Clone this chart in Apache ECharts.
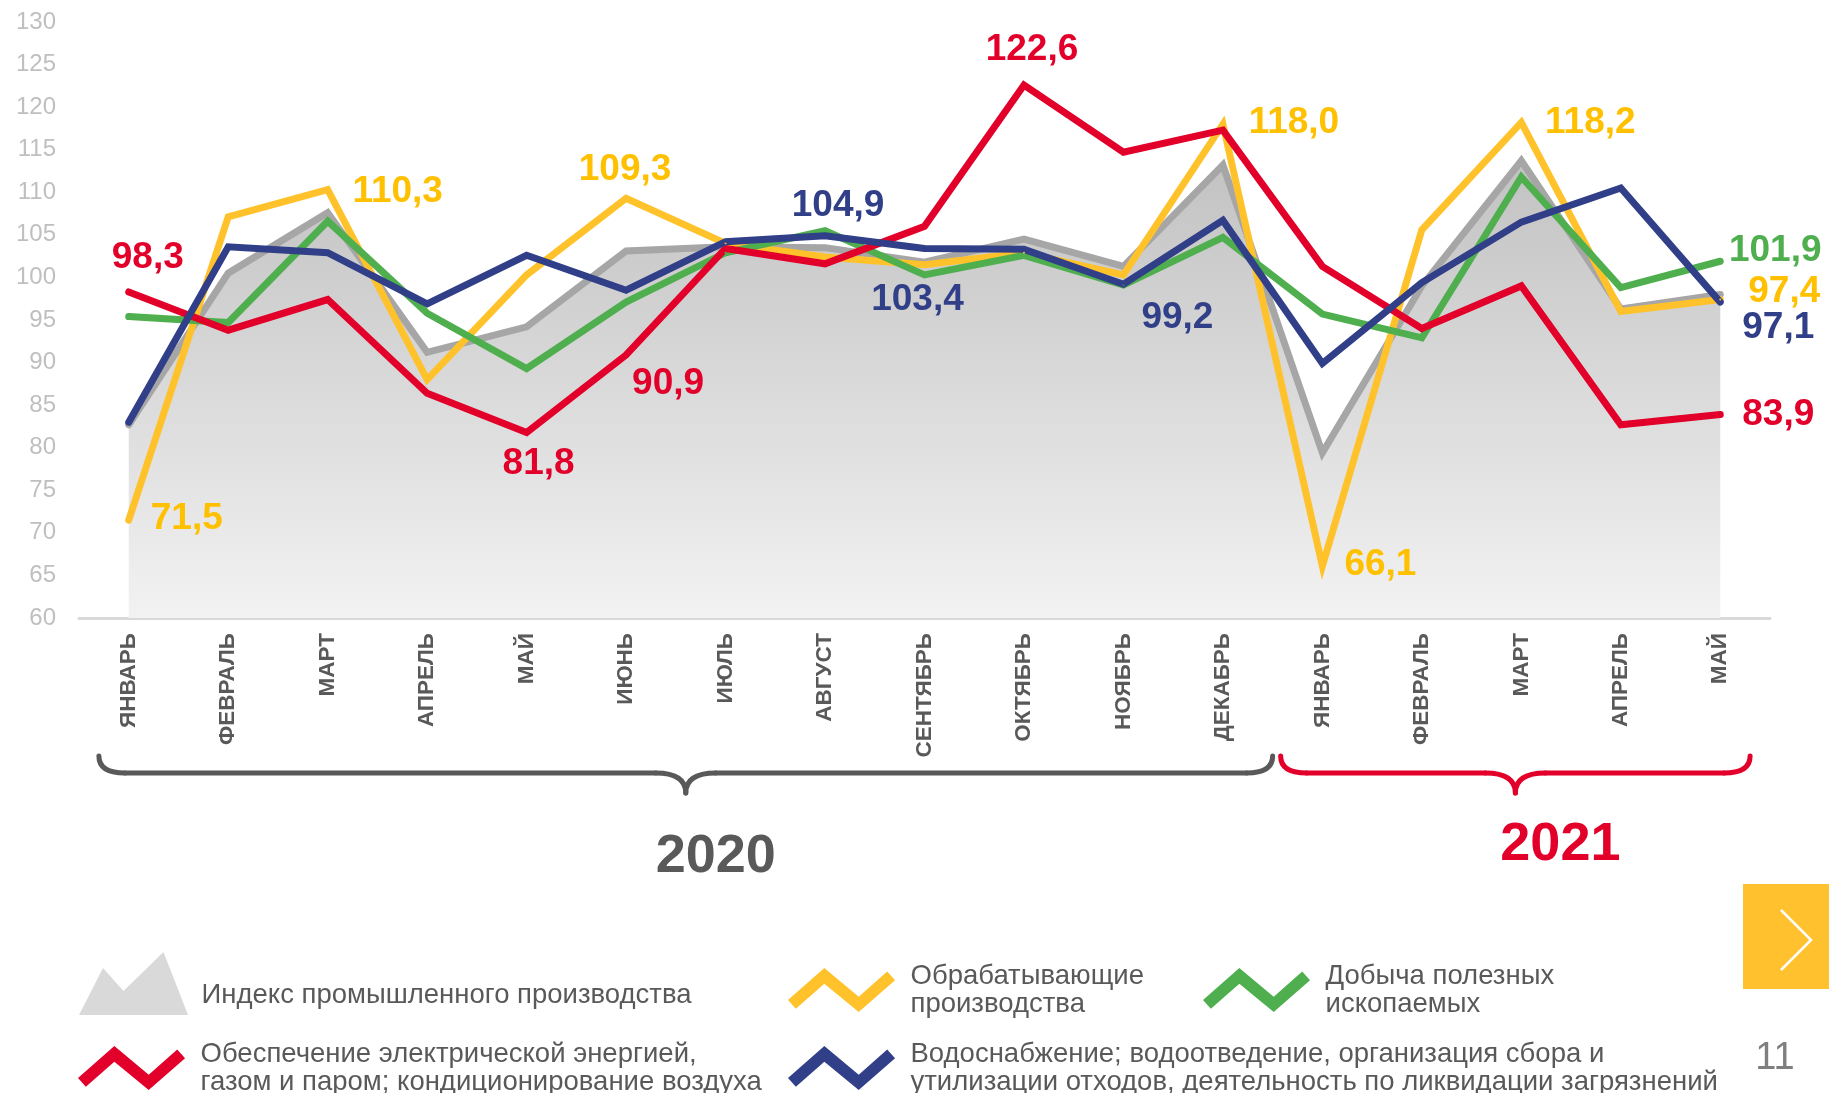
<!DOCTYPE html>
<html>
<head>
<meta charset="utf-8">
<style>
  html, body { margin: 0; padding: 0; background: #fff; }
  #chart { width: 1829px; height: 1093px; }
</style>
<script src="https://cdn.jsdelivr.net/npm/echarts@6/dist/echarts.min.js"></script>
</head>
<body>
<div id="chart"></div>
<script>
// ---- data ----
const months = ['ЯНВАРЬ', 'ФЕВРАЛЬ', 'МАРТ', 'АПРЕЛЬ', 'МАЙ', 'ИЮНЬ', 'ИЮЛЬ', 'АВГУСТ', 'СЕНТЯБРЬ',
  'ОКТЯБРЬ', 'НОЯБРЬ', 'ДЕКАБРЬ', 'ЯНВАРЬ', 'ФЕВРАЛЬ', 'МАРТ', 'АПРЕЛЬ', 'МАЙ'];
const years = ['2020', '2021'];

const indexProd = [82.7, 100.5, 107.6, 91.2, 94.2, 103.1, 103.6, 103.5, 101.8, 104.5, 101.3, 113.2, 79.4, 99.0, 113.7, 96.3, 98.0];
const manufacturing = [71.5, 107.1, 110.3, 88.0, 100.3, 109.3, 104.0, 102.4, 101.5, 102.9, 100.3, 118.0, 66.1, 105.6, 118.2, 96.0, 97.4];
const mining = [95.4, 94.7, 106.6, 95.8, 89.3, 97.1, 102.9, 105.5, 100.3, 102.6, 99.1, 104.7, 95.7, 92.9, 111.8, 98.8, 101.9];
const energy = [98.3, 93.8, 97.4, 86.4, 81.8, 90.9, 103.4, 101.6, 106.0, 122.6, 114.7, 117.3, 101.3, 94.0, 99.0, 82.7, 83.9];
const water = [83.0, 103.6, 102.9, 96.9, 102.6, 98.5, 104.2, 104.9, 103.4, 103.3, 99.2, 106.7, 89.9, 99.4, 106.5, 110.5, 97.1];

const legendLabels = {
  idx: '\nИндекс промышленного производства',   // leading blank line pushes it a bit below the icon centre
  man: 'Обрабатывающие\nпроизводства',
  min: 'Добыча полезных\nископаемых',
  ene: 'Обеспечение электрической энергией,\nгазом и паром; кондиционирование воздуха',
  wat: 'Водоснабжение; водоотведение, организация сбора и\nутилизации отходов, деятельность по ликвидации загрязнений'
};

// which points get a value label: [index, dx, dy] (label centre offset from the point)
const manLabels = [[0, 58, -1], [2, 70, 2], [5, -1, -28], [11, 71, -1], [12, 58, -1], [14, 69, 0], [16, 64, -8]];
const minLabels = [[16, 55, -10]];
const eneLabels = [[0, 19, -34], [4, 12, 31], [5, 42, 29], [9, 8, -35], [16, 58, 0]];
const watLabels = [[7, 13, -30], [8, -7, 51], [10, 54, 34], [16, 58, 26]];

const FONT = '"Liberation Sans", Arial, sans-serif';
const C = {
  gray: '#A6A6A6', yellow: '#FFC22B', yellowTxt: '#FFC000', green: '#4FAF4E',
  red: '#E2002B', blue: '#303F87', dark: '#595959'
};

const zigzag = 'path://M3 32.5 L40 0 L75 29.2 L104 3.5 L112 12.5 L75 44.8 L40 16 L11 41.5 Z';
const mountain = 'path://M0 63 L24 16 L44.5 39 L84.5 0 L109 63 Z';

const fmt = v => v.toFixed(1).replace('.', ',');

function withLabels(values, marks, color) {
  return values.map((v, i) => {
    const m = marks.find(l => l[0] === i);
    if (!m) return v;
    return {
      value: v,
      label: {
        show: true, position: 'inside', offset: [m[1], m[2]],
        align: 'center', verticalAlign: 'middle',
        formatter: p => fmt(p.value),
        color: color, fontFamily: FONT, fontWeight: 'bold', fontSize: 37
      }
    };
  });
}

function lineSeries(name, values, color, marks, txtColor) {
  return {
    name: name, type: 'line', data: withLabels(values, marks, txtColor || color),
    symbol: 'circle', symbolSize: 2, showAllSymbol: true,
    itemStyle: { color: color },
    lineStyle: { color: color, width: 7, join: 'miter', cap: 'round' },
    emphasis: { disabled: true }, silent: true
  };
}

function legendItem(name, icon, left, top, w, h, iconColor, lh) {
  const d = { name: name, icon: icon };
  if (iconColor) d.itemStyle = { color: iconColor };
  return {
    data: [d], left: left, top: top, padding: 0, orient: 'horizontal',
    itemWidth: w, itemHeight: h, selectedMode: false,
    itemStyle: { borderWidth: 0 },
    formatter: n => legendLabels[n],
    textStyle: { color: C.dark, fontFamily: FONT, fontSize: 27.5, lineHeight: lh || 28, padding: [0, 0, 0, 8] }
  };
}

const chart = echarts.init(document.getElementById('chart'));

chart.setOption({
  animation: false,
  backgroundColor: '#fff',
  grid: { left: 79, right: 59, top: 22, bottom: 475, containLabel: false },
  xAxis: {
    type: 'category', data: months, boundaryGap: true,
    axisLine: { lineStyle: { color: '#D9D9D9', width: 3 } },
    axisTick: { show: false },
    axisLabel: { interval: 0, rotate: 90, margin: 15, color: C.dark, fontWeight: 'bold', fontSize: 22.5, fontFamily: FONT }
  },
  yAxis: {
    type: 'value', min: 60, max: 130, interval: 5,
    axisLine: { show: false }, axisTick: { show: false }, splitLine: { show: false },
    axisLabel: { color: '#BFBFBF', fontSize: 24, fontFamily: FONT, margin: 23 }
  },
  legend: [
    legendItem('idx', mountain, 79, 952, 110, 63, '#D9D9D9', 24),
    legendItem('man', zigzag, 788, 962, 112, 44),
    legendItem('min', zigzag, 1203, 962, 112, 44),
    legendItem('ene', zigzag, 78, 1040, 112, 44),
    legendItem('wat', zigzag, 788, 1040, 112, 44)
  ],
  series: [
    {
      name: 'idx', type: 'line', data: indexProd,
      symbol: 'none',
      lineStyle: { color: C.gray, width: 7, join: 'miter', cap: 'round' },
      itemStyle: { color: C.gray },
      areaStyle: {
        origin: 'start', opacity: 1,
        color: new echarts.graphic.LinearGradient(0, 0, 0, 1, [
          { offset: 0, color: '#C2C2C2' }, { offset: 1, color: '#F2F2F2' }
        ])
      },
      emphasis: { disabled: true }, silent: true
    },
    lineSeries('man', manufacturing, C.yellow, manLabels, C.yellowTxt),
    lineSeries('min', mining, C.green, minLabels),
    lineSeries('ene', energy, C.red, eneLabels),
    lineSeries('wat', water, C.blue, watLabels)
  ]
});

// year braces under the month labels, placed from the axis scale
const p0 = chart.convertToPixel({ xAxisIndex: 0, yAxisIndex: 0 }, [0, 60]);
const p1 = chart.convertToPixel({ xAxisIndex: 0, yAxisIndex: 0 }, [1, 60]);
const step = p1[0] - p0[0];
const xAt = i => p0[0] + i * step;
const axisY = p0[1];
const yTop = axisY + 138, yBar = axisY + 155, yTip = axisY + 175;

function brace(x0, x1, color) {
  const xm = (x0 + x1) / 2;
  const r = 26, rm = 30;
  const st = { fill: null, stroke: color, lineWidth: 5, lineCap: 'round' };
  const curve = (ax, ay, bx, by, cx, cy) => ({
    type: 'bezierCurve', silent: true,
    shape: { x1: ax, y1: ay, x2: bx, y2: by, cpx1: cx, cpy1: cy }, style: st
  });
  const line = (ax, bx) => ({
    type: 'line', silent: true, shape: { x1: ax, y1: yBar, x2: bx, y2: yBar }, style: st
  });
  return [
    curve(x0, yTop, x0 + r, yBar, x0, yBar),
    line(x0 + r, xm - rm),
    curve(xm - rm, yBar, xm, yTip, xm, yBar),
    curve(xm, yTip, xm + rm, yBar, xm, yBar),
    line(xm + rm, x1 - r),
    curve(x1 - r, yBar, x1, yTop, x1, yBar)
  ];
}

const b1x0 = xAt(-0.3), b1x1 = xAt(11.5);
const b2x0 = xAt(11.5) + 8, b2x1 = xAt(16.3);

chart.setOption({
  graphic: [].concat(
    brace(b1x0, b1x1, C.dark),
    brace(b2x0, b2x1, C.red),
    [
      {
        type: 'text', silent: true, x: (b1x0 + b1x1) / 2 + 30, y: axisY + 239,
        style: { text: years[0], fill: C.dark, font: 'bold 54px ' + FONT, align: 'center', verticalAlign: 'middle' }
      },
      {
        type: 'text', silent: true, x: (b2x0 + b2x1) / 2 + 45, y: axisY + 227,
        style: { text: years[1], fill: C.red, font: 'bold 54px ' + FONT, align: 'center', verticalAlign: 'middle' }
      },
      {
        type: 'rect', silent: true, shape: { x: 1743, y: 884, width: 86, height: 105 },
        style: { fill: '#FFC12E' }
      },
      {
        type: 'polyline', silent: true, shape: { points: [[1781, 910], [1811, 940], [1781, 970]] },
        style: { fill: null, stroke: '#fff', lineWidth: 2.5 }
      },
      {
        type: 'text', silent: true, x: 1775, y: 1059,
        style: { text: '11', fill: '#7F7F7F', font: '38px ' + FONT, align: 'center', verticalAlign: 'middle' }
      }
    ]
  )
});
</script>
</body>
</html>
